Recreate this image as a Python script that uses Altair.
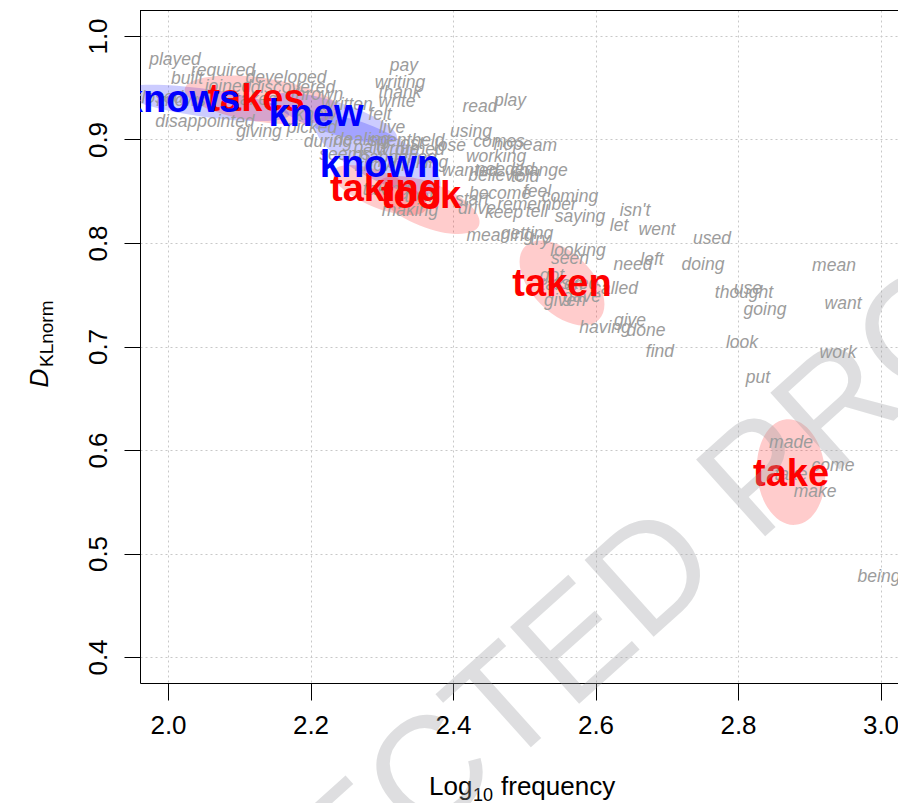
import altair as alt
import pandas as pd

# ---------------- data ----------------
words = ["played", "required", "built", "developed", "joined", "discovered", "thrown", "closed",
         "disappointed", "giving", "written", "picked", "felt", "live", "during", "seems",
         "dealing", "spent", "paid", "wrote", "lost", "turned", "held", "happened",
         "pay", "writing", "thank", "write", "read", "play", "using", "comes", "hope", "am",
         "lose", "working", "thinking", "wanted", "needed", "change", "believe", "told",
         "become", "feel", "coming", "start", "remember", "drive", "keep", "tell", "saying",
         "isn't", "let", "went", "getting", "meaning", "try", "looking", "seen", "need", "left",
         "got", "asked", "called", "given", "gave", "used", "doing", "mean", "thought", "use",
         "going", "want", "give", "having", "done", "find", "look", "work", "put", "made",
         "come", "make", "being", "making",
         "knows", "takes", "knew", "known", "taking", "took", "taken", "take"]
word_x = [2.0098, 2.0772, 2.0267, 2.1656, 2.0842, 2.1754, 2.2091, 1.9860,
          2.0519, 2.1277, 2.2512, 2.2021, 2.2975, 2.3144, 2.2246, 2.2484,
          2.2723, 2.3116, 2.2835, 2.3228, 2.3396, 2.3537, 2.3649, 2.3228,
          2.3312, 2.3256, 2.3256, 2.3214, 2.4379, 2.4800, 2.4253, 2.4646, 2.4842, 2.5291,
          2.3958, 2.4604, 2.3509, 2.4239, 2.4730, 2.5207, 2.4604, 2.5011,
          2.4660, 2.5179, 2.5642, 2.4267, 2.5179, 2.4337, 2.4716, 2.5179, 2.5782,
          2.6554, 2.6330, 2.6863, 2.5039, 2.4660, 2.5221, 2.5754, 2.5642, 2.6526, 2.6793,
          2.5389, 2.5712, 2.6274, 2.5572, 2.5811, 2.7635, 2.7509, 2.9347, 2.8084, 2.8140,
          2.8379, 2.9474, 2.6484, 2.6133, 2.6709, 2.6905, 2.8056, 2.9404, 2.8281, 2.8744,
          2.9333, 2.9081, 2.9979, 2.3396,
          2.0182, 2.1235, 2.2077, 2.2975, 2.3060, 2.3551, 2.5530, 2.8744]
word_y = [0.9768, 0.9662, 0.9585, 0.9594, 0.9507, 0.9498, 0.9430, 0.9401,
          0.9169, 0.9072, 0.9333, 0.9111, 0.9237, 0.9111, 0.8976, 0.8850,
          0.8995, 0.8986, 0.8918, 0.8899, 0.8957, 0.8899, 0.8986, 0.8821,
          0.9710, 0.9546, 0.9449, 0.9362, 0.9314, 0.9372, 0.9072, 0.8976, 0.8947, 0.8937,
          0.8937, 0.8831, 0.8773, 0.8696, 0.8705, 0.8696, 0.8647, 0.8638,
          0.8473, 0.8493, 0.8444, 0.8415, 0.8367, 0.8329, 0.8290, 0.8300, 0.8251,
          0.8309, 0.8164, 0.8126, 0.8087, 0.8068, 0.8029, 0.7923, 0.7845, 0.7787, 0.7836,
          0.7681, 0.7604, 0.7556, 0.7440, 0.7478, 0.8039, 0.7787, 0.7778, 0.7517, 0.7556,
          0.7353, 0.7411, 0.7246, 0.7179, 0.7150, 0.6947, 0.7034, 0.6937, 0.6696, 0.6068,
          0.5845, 0.5594, 0.4773, 0.8309,
          0.9372, 0.9382, 0.9237, 0.8744, 0.8512, 0.8444, 0.7594, 0.5758]

# highlighted members of the two families (drawing order: take family, then know family)
hl_words = ["takes", "taking", "took", "taken", "take", "knows", "knew", "known"]
hl_x = [2.1235, 2.3060, 2.3551, 2.5530, 2.8744, 2.0182, 2.2077, 2.2975]
hl_y = [0.9382, 0.8512, 0.8444, 0.7594, 0.5758, 0.9372, 0.9237, 0.8744]
hl_family = ["take", "take", "take", "take", "take", "know", "know", "know"]

# centres of the uncertainty ellipses
ell_word = ["knows", "takes", "knew", "known", "taking", "took", "taken", "take"]
ell_x = [2.0519, 2.1319, 2.2344, 2.2947, 2.2975, 2.3649, 2.5530, 2.8744]
ell_y = [0.9353, 0.9382, 0.9208, 0.8850, 0.8512, 0.8367, 0.7614, 0.5787]
ell_family = ["know", "take", "know", "know", "take", "take", "take", "take"]

x_ticks = [2.0, 2.2, 2.4, 2.6, 2.8, 3.0]
y_ticks = [0.4, 0.5, 0.6, 0.7, 0.8, 0.9, 1.0]

# ---------------- styles ----------------
ell_semi_major = [85, 78, 65, 70, 50, 55, 52, 53]   # px
ell_semi_minor = [14, 22, 16, 24, 18, 22, 30, 34]   # px
ell_angle = [8, 8, 18, 28, 22, 22, 45, 85]          # deg, clockwise
fam_color = {"take": "#ff0000", "know": "#0000ff"}
FONT = "Liberation Sans"
W, H = 758, 673

xs = alt.Scale(domain=[1.96070, 3.02456], nice=False, zero=False)
ys = alt.Scale(domain=[0.37488, 1.02512], nice=False, zero=False)

x_axis = alt.Axis(values=x_ticks, format=".1f", title=None, grid=True, gridColor="#c8c8c8",
                  gridDash=[2, 3], gridWidth=1, tickSize=17, tickColor="black", tickWidth=1,
                  domainColor="black", domainWidth=1, labelFontSize=26, labelFont=FONT,
                  labelColor="black", labelPadding=12, labelFlush=False, labelOverlap=False,
                  labelBound=False)
y_axis = alt.Axis(values=y_ticks, format=".1f", title=None, grid=True, gridColor="#c8c8c8",
                  gridDash=[2, 3], gridWidth=1, tickSize=16, tickColor="black", tickWidth=1,
                  domainColor="black", domainWidth=1, labelFontSize=26, labelFont=FONT,
                  labelColor="black", labelAngle=270, labelAlign="center",
                  labelBaseline="alphabetic", labelPadding=18, labelFlush=False,
                  labelOverlap=False, labelBound=False)


def ellipse_path(ratio):
    k = 0.5523
    b = ratio
    return (f"M 1 0 C 1 {k*b:.4f} {k:.4f} {b:.4f} 0 {b:.4f} "
            f"C {-k:.4f} {b:.4f} -1 {k*b:.4f} -1 0 "
            f"C -1 {-k*b:.4f} {-k:.4f} {-b:.4f} 0 {-b:.4f} "
            f"C {k:.4f} {-b:.4f} 1 {-k*b:.4f} 1 0 Z")


layers = []

# ellipses
for i in range(len(ell_word)):
    d = pd.DataFrame({"x": [ell_x[i]], "y": [ell_y[i]]})
    a, b = ell_semi_major[i], ell_semi_minor[i]
    layers.append(
        alt.Chart(d).mark_point(shape=ellipse_path(b / a), size=(2 * a) ** 2, angle=ell_angle[i],
                                filled=True, color=fam_color[ell_family[i]], opacity=0.2,
                                strokeWidth=0, clip=True)
        .encode(x=alt.X("x:Q", scale=xs, axis=x_axis), y=alt.Y("y:Q", scale=ys, axis=y_axis))
    )

# grey words
grey_df = pd.DataFrame({"w": words, "x": word_x, "y": word_y})
layers.append(
    alt.Chart(grey_df).mark_text(font=FONT, fontStyle="italic", fontSize=17.5, color="#9c9c9c",
                                 align="center", baseline="middle", clip=True)
    .encode(x=alt.X("x:Q", scale=xs), y=alt.Y("y:Q", scale=ys), text="w:N")
)

# highlighted words
hl_df = pd.DataFrame({"w": hl_words, "x": hl_x, "y": hl_y, "f": hl_family})
for fam in ["take", "know"]:
    layers.append(
        alt.Chart(hl_df).transform_filter(alt.datum.f == fam)
        .mark_text(font=FONT, fontWeight="bold", fontSize=38, color=fam_color[fam],
                   align="center", baseline="middle", clip=True)
        .encode(x=alt.X("x:Q", scale=xs), y=alt.Y("y:Q", scale=ys), text="w:N")
    )

# top frame line
layers.append(
    alt.Chart(pd.DataFrame({"k": [0]})).mark_rule(color="black", strokeWidth=1)
    .encode(x=alt.value(0), x2=alt.value(W), y=alt.value(0.5))
)

# axis titles
title_df = pd.DataFrame({"t": ["D", "KLnorm", "Log", "10", "frequency"]})


def label(txt, x, y, size, angle=0, align="left", style="normal"):
    return (alt.Chart(title_df).transform_filter(alt.datum.t == txt)
            .mark_text(font=FONT, fontSize=size, fontStyle=style, align=align,
                       baseline="alphabetic", angle=angle, color="black", clip=False)
            .encode(text="t:N", x=alt.value(x), y=alt.value(y)))


layers.append(label("D", -92, 368, 26, angle=270, align="center", style="italic"))
layers.append(label("KLnorm", -87, 357, 19, angle=270, align="left"))
layers.append(label("Log", 289, 785, 26))
layers.append(label("10", 333, 791, 18))
layers.append(label("frequency", 361, 785, 26))

# watermark
wm_df = pd.DataFrame({"t": ["UNCORRECTED PROOF"]})
layers.append(
    alt.Chart(wm_df).mark_text(font=FONT, fontSize=150, color="#9a9ca0", opacity=0.32,
                               align="center", baseline="middle", angle=318, clip=False)
    .encode(text="t:N", x=alt.value(335), y=alt.value(727))
)

chart = (alt.layer(*layers)
         .properties(width=W, height=H, background="white",
                     autosize=alt.AutoSizeParams(type="none"),
                     padding={"left": 140, "top": 10, "right": 0, "bottom": 120})
         .configure_view(stroke="transparent"))

chart.save("out.html", embed_options={"renderer": "svg", "actions": False})
